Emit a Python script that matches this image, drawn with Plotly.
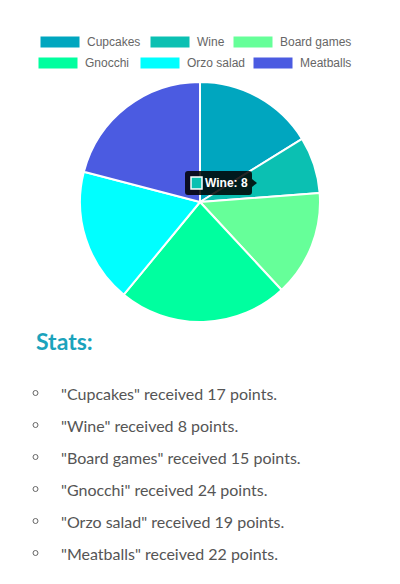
import plotly.graph_objects as go

W, H = 400, 584

labels = ["Cupcakes", "Wine", "Board games", "Gnocchi", "Orzo salad", "Meatballs"]
values = [17, 8, 15, 24, 19, 22]
colors = ["#00A6BF", "#0BC0B2", "#66FF99", "#00FF9F", "#00FFFF", "#4B5BE1"]

def px(x):
    return x / W

def py(y):
    return 1 - y / H

fig = go.Figure()
fig.add_trace(go.Pie(
    labels=labels, values=values, sort=False, direction="clockwise", rotation=0,
    marker=dict(colors=colors, line=dict(color="white", width=2)),
    textinfo="none", hoverinfo="label+value", showlegend=False,
    domain=dict(x=[px(80), px(320)], y=[py(322), py(82)]),
))

shapes = []
annotations = []

# legend
legend_rows = [
    [(0, 40), (1, 150), (2, 233)],
    [(3, 38), (4, 140), (5, 253)],
]
row_y = [42, 63]
for r, row in enumerate(legend_rows):
    yc = row_y[r]
    for idx, x0 in row:
        shapes.append(dict(type="rect", xref="paper", yref="paper",
                           x0=px(x0), x1=px(x0 + 40), y0=py(yc - 6), y1=py(yc + 6),
                           fillcolor=colors[idx], line=dict(width=1, color="white")))
        annotations.append(dict(text=labels[idx], xref="paper", yref="paper",
                                x=px(x0 + 45), y=py(yc), xanchor="left", yanchor="middle",
                                showarrow=False, font=dict(family="Liberation Sans, Arial", size=12, color="#666")))

# tooltip
shapes.append(dict(type="path", xref="paper", yref="paper",
                   path=f"M {px(188)},{py(171)} L {px(249)},{py(171)} Q {px(252)},{py(171)} {px(252)},{py(174)} "
                        f"L {px(252)},{py(179)} L {px(257)},{py(183)} L {px(252)},{py(187)} L {px(252)},{py(192)} "
                        f"Q {px(252)},{py(195)} {px(249)},{py(195)} L {px(188)},{py(195)} Q {px(185)},{py(195)} {px(185)},{py(192)} "
                        f"L {px(185)},{py(174)} Q {px(185)},{py(171)} {px(188)},{py(171)} Z",
                   fillcolor="rgba(0,0,0,0.85)", line=dict(width=0)))
shapes.append(dict(type="rect", xref="paper", yref="paper",
                   x0=px(191), x1=px(202), y0=py(177), y1=py(189),
                   fillcolor=colors[1], line=dict(width=1.5, color="white")))
annotations.append(dict(text=f"<b>{labels[1]}: {values[1]}</b>", xref="paper", yref="paper",
                        x=px(203), y=py(183), xanchor="left", yanchor="middle", showarrow=False,
                        font=dict(family="Liberation Sans, Arial", size=12, color="white")))

# stats
annotations.append(dict(text="<b>Stats:</b>", xref="paper", yref="paper",
                        x=px(34), y=py(341), xanchor="left", yanchor="middle", showarrow=False,
                        font=dict(family="Lato", size=23, color="#1BA3BC")))
for i, (lab, v) in enumerate(zip(labels, values)):
    yc = 393 + 32 * i
    shapes.append(dict(type="circle", xref="paper", yref="paper",
                       x0=px(33), x1=px(38), y0=py(yc - 2.5), y1=py(yc + 2.5),
                       line=dict(color="#666", width=1), fillcolor="white"))
    annotations.append(dict(text=f'"{lab}" received {v} points.', xref="paper", yref="paper",
                            x=px(59), y=py(yc), xanchor="left", yanchor="middle", showarrow=False,
                            font=dict(family="Lato", size=16, color="#555")))

fig.update_layout(width=W, height=H, margin=dict(l=0, r=0, t=0, b=0),
                  paper_bgcolor="white", plot_bgcolor="white",
                  shapes=shapes, annotations=annotations)
fig.write_html("out.html", config={"displayModeBar": False})
